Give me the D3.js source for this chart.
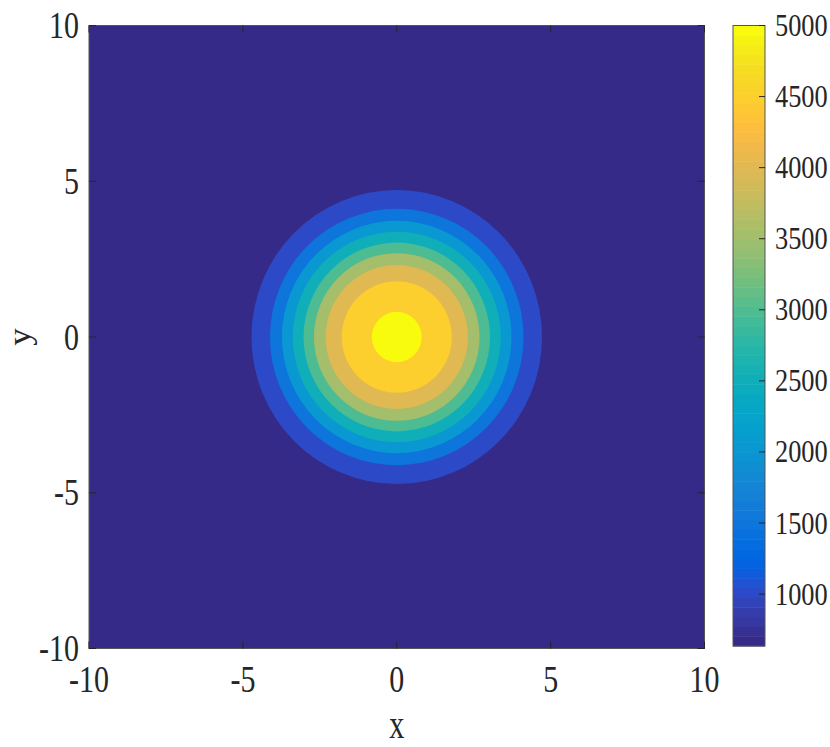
<!DOCTYPE html>
<html>
<head>
<meta charset="utf-8">
<script src="https://cdn.jsdelivr.net/npm/d3@7"></script>
<style>
  html, body { margin: 0; padding: 0; background: #fff; }
  svg { display: block; }
  text { font-family: "Liberation Serif", "Times New Roman", serif; fill: #262626; }
</style>
</head>
<body>
<svg id="chart" width="830" height="747"></svg>
<script>
// ---------------- data ----------------
const xDomain = [-10, 10];
const yDomain = [-10, 10];
const axisTicks = [-10, -5, 0, 5, 10];
// contour levels (contourf) and the radius (in x/y units) where each level boundary sits
const levels      = [1000, 1500, 2000, 2500, 3000, 3500, 4000, 4500, 5000];
const levelRadii  = [4.72, 4.12, 3.73, 3.38, 3.03, 2.69, 2.31, 1.79, 0.81];
const peakCenter  = [0, 0];
const colorLimits = [635, 5000];
const colorbarTicks = [1000, 1500, 2000, 2500, 3000, 3500, 4000, 4500, 5000];
const xLabel = "x";
const yLabel = "y";

// parula (64 entries)
const parula = [
[0.2081,0.1663,0.5292],[0.2116,0.1898,0.5777],[0.2123,0.2138,0.6270],[0.2081,0.2386,0.6771],
[0.1959,0.2645,0.7279],[0.1707,0.2919,0.7792],[0.1253,0.3242,0.8303],[0.0591,0.3598,0.8683],
[0.0117,0.3875,0.8820],[0.0060,0.4086,0.8828],[0.0165,0.4266,0.8786],[0.0329,0.4430,0.8720],
[0.0498,0.4586,0.8641],[0.0629,0.4737,0.8554],[0.0723,0.4887,0.8467],[0.0779,0.5040,0.8384],
[0.0793,0.5200,0.8312],[0.0749,0.5375,0.8263],[0.0641,0.5570,0.8240],[0.0488,0.5772,0.8228],
[0.0343,0.5966,0.8199],[0.0265,0.6137,0.8135],[0.0239,0.6287,0.8038],[0.0231,0.6418,0.7913],
[0.0228,0.6535,0.7768],[0.0267,0.6642,0.7607],[0.0384,0.6743,0.7436],[0.0590,0.6838,0.7254],
[0.0843,0.6928,0.7062],[0.1133,0.7015,0.6859],[0.1453,0.7098,0.6646],[0.1801,0.7177,0.6424],
[0.2178,0.7250,0.6193],[0.2586,0.7317,0.5954],[0.3022,0.7376,0.5712],[0.3482,0.7424,0.5473],
[0.3953,0.7459,0.5244],[0.4420,0.7481,0.5033],[0.4871,0.7491,0.4840],[0.5300,0.7491,0.4661],
[0.5709,0.7485,0.4494],[0.6099,0.7473,0.4337],[0.6473,0.7456,0.4188],[0.6834,0.7435,0.4044],
[0.7184,0.7411,0.3905],[0.7525,0.7384,0.3768],[0.7858,0.7356,0.3633],[0.8185,0.7327,0.3498],
[0.8507,0.7299,0.3360],[0.8824,0.7274,0.3217],[0.9139,0.7258,0.3063],[0.9450,0.7261,0.2886],
[0.9739,0.7314,0.2666],[0.9938,0.7455,0.2403],[0.9990,0.7653,0.2164],[0.9955,0.7861,0.1967],
[0.9880,0.8066,0.1794],[0.9789,0.8271,0.1633],[0.9697,0.8481,0.1475],[0.9626,0.8705,0.1309],
[0.9589,0.8949,0.1132],[0.9598,0.9218,0.0948],[0.9661,0.9514,0.0755],[0.9763,0.9831,0.0538]
].map(c => d3.rgb(c[0]*255, c[1]*255, c[2]*255).formatHex());

// ---------------- layout ----------------
const plot = { left: 89, right: 704.5, top: 25.5, bottom: 648.5 };
const cbar = { left: 733, right: 765, top: 25.5, bottom: 646 };
const axisColor = "#262626";

const svg = d3.select("#chart");
const x = d3.scaleLinear().domain(xDomain).range([plot.left, plot.right]);
const y = d3.scaleLinear().domain(yDomain).range([plot.bottom, plot.top]);

// quantized colour: value -> one of 64 parula entries
const colorIndex = d3.scaleQuantize().domain(colorLimits).range(d3.range(64));
const color = v => parula[Math.max(0, Math.min(63, v >= colorLimits[1] ? 63 : colorIndex(v)))];

// clip
svg.append("clipPath").attr("id", "plotClip")
  .append("rect").attr("x", plot.left).attr("y", plot.top)
  .attr("width", plot.right - plot.left).attr("height", plot.bottom - plot.top);

const g = svg.append("g").attr("clip-path", "url(#plotClip)");
// lowest region (below first level)
g.append("rect").attr("x", plot.left).attr("y", plot.top)
  .attr("width", plot.right - plot.left).attr("height", plot.bottom - plot.top)
  .attr("fill", color(colorLimits[0]));

// filled contour regions
g.selectAll("ellipse.band").data(levels.map((lv, i) => ({ lv, r: levelRadii[i] })))
  .join("ellipse").attr("class", "band")
  .attr("cx", x(peakCenter[0])).attr("cy", y(peakCenter[1]))
  .attr("rx", d => x(peakCenter[0] + d.r) - x(peakCenter[0]))
  .attr("ry", d => y(peakCenter[1]) - y(peakCenter[1] + d.r))
  .attr("fill", d => color(d.lv));

// axes box
svg.append("rect").attr("x", plot.left).attr("y", plot.top)
  .attr("width", plot.right - plot.left).attr("height", plot.bottom - plot.top)
  .attr("fill", "none").attr("stroke", "#555").attr("stroke-width", 1);

// ticks (inward, on all four sides)
const tl = 7;
const tg = svg.append("g").attr("stroke", axisColor).attr("stroke-width", 1);
axisTicks.forEach(t => {
  tg.append("line").attr("x1", x(t)).attr("x2", x(t)).attr("y1", plot.bottom).attr("y2", plot.bottom - tl);
  tg.append("line").attr("x1", x(t)).attr("x2", x(t)).attr("y1", plot.top).attr("y2", plot.top + tl);
  tg.append("line").attr("y1", y(t)).attr("y2", y(t)).attr("x1", plot.left).attr("x2", plot.left + tl);
  tg.append("line").attr("y1", y(t)).attr("y2", y(t)).attr("x1", plot.right).attr("x2", plot.right - tl);
});

// tick labels
const fs = 37, sx = 0.81;
axisTicks.forEach(t => {
  svg.append("text").attr("transform", `translate(${x(t)},${692}) scale(${sx},1)`)
    .attr("text-anchor", "middle").style("font-size", fs + "px").text(t);
  svg.append("text").attr("transform", `translate(${79},${y(t) + 12.5}) scale(${sx},1)`)
    .attr("text-anchor", "end").style("font-size", fs + "px").text(t);
});

// axis labels
svg.append("text").attr("transform", `translate(${x(0)},${737.5}) scale(0.72,1)`)
  .attr("text-anchor", "middle").style("font-size", "42px").text(xLabel);
svg.append("text").attr("transform", `translate(${29.5},${y(0)}) rotate(-90) scale(1,0.93)`)
  .attr("text-anchor", "middle").style("font-size", "35px").text(yLabel);

// ---------------- colorbar ----------------
const cy = d3.scaleLinear().domain(colorLimits).range([cbar.bottom, cbar.top]);
const step = (colorLimits[1] - colorLimits[0]) / 64;
svg.append("g").selectAll("rect").data(parula).join("rect")
  .attr("x", cbar.left)
  .attr("y", (c, i) => cy(colorLimits[0] + (i + 1) * step))
  .attr("width", cbar.right - cbar.left)
  .attr("height", (c, i) => cy(colorLimits[0] + i * step) - cy(colorLimits[0] + (i + 1) * step) + 0.5)
  .attr("fill", c => c);
svg.append("rect").attr("x", cbar.left).attr("y", cbar.top)
  .attr("width", cbar.right - cbar.left).attr("height", cbar.bottom - cbar.top)
  .attr("fill", "none").attr("stroke", "#555").attr("stroke-width", 1);
colorbarTicks.forEach(t => {
  svg.append("line").attr("x1", cbar.right).attr("x2", cbar.right - 6)
    .attr("y1", cy(t)).attr("y2", cy(t)).attr("stroke", axisColor);
  svg.append("text").attr("transform", `translate(${775},${cy(t) + 10.5}) scale(0.85,1)`)
    .attr("text-anchor", "start").style("font-size", "31px").text(t);
});
</script>
</body>
</html>
